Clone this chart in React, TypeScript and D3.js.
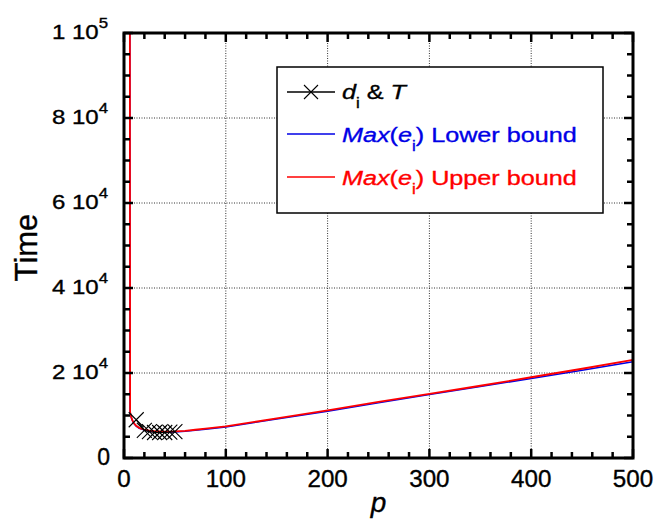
import React from "react";
import * as d3 from "d3";

// Measured completion time against the number of processors p
const pCurve = [5, 6, 7, 8, 9, 10, 12, 15, 20, 25, 30, 40, 50, 60, 70, 80, 100, 150, 200, 250, 300, 350, 400, 450, 500];
const upperBound = [400000, 10800, 9700, 9000, 8500, 8100, 7600, 7100, 6700, 6450, 6300, 6200, 6250, 6400, 6650, 6900, 7450, 9300, 11200, 13200, 15100, 17000, 19000, 21000, 23100];
const lowerBound = [400000, 10800, 9650, 8950, 8450, 8050, 7500, 6980, 6580, 6320, 6170, 6070, 6120, 6270, 6520, 6770, 7320, 9170, 11020, 12970, 14920, 16820, 18720, 20670, 22650];

const pMeasured = [12, 20, 25, 30, 35, 40, 45, 50];
const timeMeasured = [9000, 6500, 6200, 6000, 6000, 6000, 6100, 6200];

const xMajorTicks = [0, 100, 200, 300, 400, 500];
const yMajorTicks = [0, 20000, 40000, 60000, 80000, 100000];

const W = 658;
const H = 522;
const plot = { left: 124, right: 633, top: 33, bottom: 458 };
const FONT = "'Liberation Sans', Arial, Helvetica, sans-serif";
const BLUE = "#0000e6";
const RED = "#ff0000";

const x = d3.scaleLinear().domain([0, 500]).range([plot.left, plot.right]);
const y = d3.scaleLinear().domain([0, 100000]).range([plot.bottom, plot.top]);

const xMinor = d3.range(0, 501, 20).filter((v) => v % 100 !== 0);
const yMinor = d3.range(0, 100001, 5000).filter((v) => v % 20000 !== 0);

const curve = d3
  .line<[number, number]>()
  .x((d) => x(d[0]))
  .y((d) => y(d[1]));

const pairs = (ps: number[], ts: number[]): [number, number][] => ps.map((p, i) => [p, ts[i]]);

function Cross({ cx, cy, r = 7.5 }: { cx: number; cy: number; r?: number }) {
  return (
    <path
      d={`M${cx - r},${cy - r}L${cx + r},${cy + r}M${cx - r},${cy + r}L${cx + r},${cy - r}`}
      stroke="#000"
      strokeWidth={1.1}
      fill="none"
    />
  );
}

// Text drawn slightly wide and heavy, the way the plotting program renders Helvetica
function WideText({
  x: tx,
  y: ty,
  sx = 1.2,
  anchor = "start",
  size,
  fill = "#000",
  italic = false,
  children,
}: {
  x: number;
  y: number;
  sx?: number;
  anchor?: string;
  size: number;
  fill?: string;
  italic?: boolean;
  children: React.ReactNode;
}) {
  return (
    <text
      transform={`translate(${tx},${ty}) scale(${sx},1)`}
      textAnchor={anchor as any}
      fontFamily={FONT}
      fontSize={size}
      fill={fill}
      stroke={fill}
      strokeWidth={0.35}
      fontStyle={italic ? "italic" : "normal"}
    >
      {children}
    </text>
  );
}

function yLabel(v: number) {
  if (v === 0) return null;
  const exp = Math.floor(Math.log10(v));
  const mant = Math.round(v / Math.pow(10, exp));
  return { mant, exp };
}

export default function App() {
  const legendRows = [
    { y: 92, color: "#000", marker: true },
    { y: 134, color: BLUE, marker: false },
    { y: 177, color: RED, marker: false },
  ];

  return (
    <svg
      width={W}
      height={H}
      viewBox={`0 0 ${W} ${H}`}
      style={{ position: "absolute", left: 0, top: 0, background: "#fff" }}
    >
      <defs>
        <clipPath id="plot-clip">
          <rect x={plot.left} y={plot.top} width={plot.right - plot.left} height={plot.bottom - plot.top} />
        </clipPath>
      </defs>
      <rect width={W} height={H} fill="#fff" />

      {/* dotted grid at the major ticks */}
      <g stroke="#333" strokeWidth={1} strokeDasharray="1 1.5">
        {xMajorTicks.slice(1, -1).map((v) => (
          <line key={`gx${v}`} x1={x(v)} x2={x(v)} y1={plot.top} y2={plot.bottom} />
        ))}
        {yMajorTicks.slice(1, -1).map((v) => (
          <line key={`gy${v}`} x1={plot.left} x2={plot.right} y1={y(v)} y2={y(v)} />
        ))}
      </g>

      {/* series */}
      <g clipPath="url(#plot-clip)" fill="none">
        <path d={curve(pairs(pCurve, lowerBound)) || ""} stroke={BLUE} strokeWidth={1.5} />
        <path d={curve(pairs(pCurve, upperBound)) || ""} stroke={RED} strokeWidth={1.8} />
        <path d={curve(pairs(pMeasured, timeMeasured)) || ""} stroke="#000" strokeWidth={1.2} />
        {pMeasured.map((p, i) => (
          <Cross key={`m${p}`} cx={x(p)} cy={y(timeMeasured[i])} />
        ))}
      </g>

      {/* ticks on all four sides, pointing inward */}
      <g stroke="#000" strokeWidth={2.5}>
        {xMajorTicks.map((v) => (
          <g key={`tx${v}`}>
            <line x1={x(v)} x2={x(v)} y1={plot.bottom} y2={plot.bottom - 9} />
            <line x1={x(v)} x2={x(v)} y1={plot.top} y2={plot.top + 9} />
          </g>
        ))}
        {xMinor.map((v) => (
          <g key={`tmx${v}`}>
            <line x1={x(v)} x2={x(v)} y1={plot.bottom} y2={plot.bottom - 6} />
            <line x1={x(v)} x2={x(v)} y1={plot.top} y2={plot.top + 6} />
          </g>
        ))}
        {yMajorTicks.map((v) => (
          <g key={`ty${v}`}>
            <line x1={plot.left} x2={plot.left + 9} y1={y(v)} y2={y(v)} />
            <line x1={plot.right} x2={plot.right - 9} y1={y(v)} y2={y(v)} />
          </g>
        ))}
        {yMinor.map((v) => (
          <g key={`tmy${v}`}>
            <line x1={plot.left} x2={plot.left + 6} y1={y(v)} y2={y(v)} />
            <line x1={plot.right} x2={plot.right - 6} y1={y(v)} y2={y(v)} />
          </g>
        ))}
      </g>

      {/* frame */}
      <rect
        x={plot.left}
        y={plot.top}
        width={plot.right - plot.left}
        height={plot.bottom - plot.top}
        fill="none"
        stroke="#000"
        strokeWidth={3}
      />

      {/* x tick labels */}
      {xMajorTicks.map((v) => (
        <WideText key={`lx${v}`} x={x(v)} y={plot.bottom + 29} size={23} sx={1.05} anchor="middle">
          {String(v)}
        </WideText>
      ))}

      {/* y tick labels, written as m 10^e */}
      {yMajorTicks.map((v) => {
        const lab = yLabel(v);
        if (!lab) {
          return (
            <WideText key="ly0" x={110} y={y(v) + 7} size={23} sx={1.0} anchor="end">
              0
            </WideText>
          );
        }
        return (
          <WideText key={`ly${v}`} x={108} y={y(v) + 6} size={20} sx={1.2} anchor="end">
            <tspan>{`${lab.mant} 10`}</tspan>
            <tspan fontSize={14} dy={-11}>
              {String(lab.exp)}
            </tspan>
          </WideText>
        );
      })}

      {/* axis titles */}
      <text
        transform={`translate(37,${(plot.top + plot.bottom) / 2 + 2}) rotate(-90)`}
        textAnchor="middle"
        fontFamily={FONT}
        fontSize={31}
        stroke="#000"
        strokeWidth={0.35}
      >
        Time
      </text>
      <WideText x={(plot.left + plot.right) / 2} y={512} size={28} sx={1.0} anchor="middle" italic>
        p
      </WideText>

      {/* legend */}
      <rect x={277} y={67} width={326} height={146} fill="#fff" stroke="#000" strokeWidth={1.5} />
      {legendRows.map((r, i) => (
        <g key={`lg${i}`}>
          <line x1={287} x2={335} y1={r.y} y2={r.y} stroke={r.color} strokeWidth={1.3} />
          {r.marker && <Cross cx={311} cy={r.y} r={7} />}
        </g>
      ))}
      <WideText x={342} y={99} size={21}>
        <tspan fontStyle="italic">d</tspan>
        <tspan fontSize={14} dy={9}>
          i
        </tspan>
        <tspan dy={-9}>{" & "}</tspan>
        <tspan fontStyle="italic">T</tspan>
      </WideText>
      <WideText x={342} y={142} size={21} fill={BLUE}>
        <tspan fontStyle="italic">Max</tspan>
        <tspan>(</tspan>
        <tspan fontStyle="italic">e</tspan>
        <tspan fontSize={14} dy={9}>
          i
        </tspan>
        <tspan dy={-9}>) Lower bound</tspan>
      </WideText>
      <WideText x={342} y={185} size={21} fill={RED}>
        <tspan fontStyle="italic">Max</tspan>
        <tspan>(</tspan>
        <tspan fontStyle="italic">e</tspan>
        <tspan fontSize={14} dy={9}>
          i
        </tspan>
        <tspan dy={-9}>) Upper bound</tspan>
      </WideText>
    </svg>
  );
}
